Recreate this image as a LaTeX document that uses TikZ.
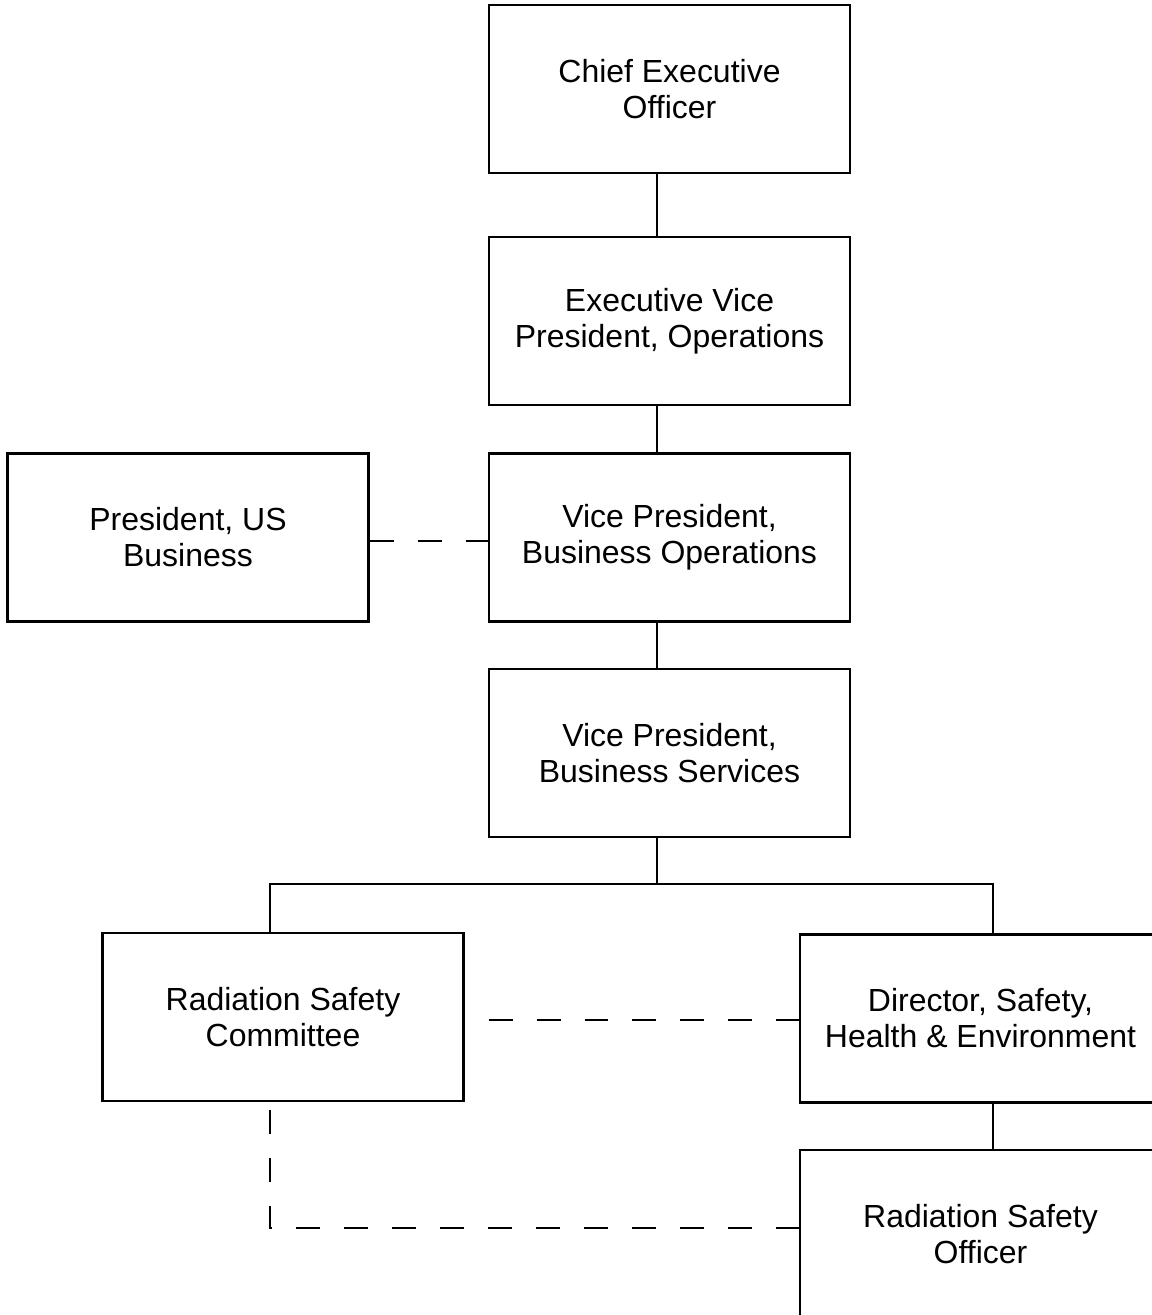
\documentclass[tikz,border=0pt]{standalone}
\usepackage{fontspec}
\setmainfont{Liberation Sans}
\usetikzlibrary{positioning,calc}

\begin{document}
\begin{tikzpicture}[x=0.02cm, y=-0.02cm,
            box/.style={draw, line width=1.2pt, rectangle, align=center,
                minimum width=7.22cm, minimum height=3.36cm, inner sep=0pt,
                font=\fontsize{18.2}{20.5}\selectfont},
            link/.style={draw, line width=1.2pt},
            dashlink/.style={draw, line width=1.2pt, dash pattern=on 0.48cm off 0.48cm}]
        \clip (0,0) rectangle (1152,1315);
        % boxes
        \node[box] (ceo) at (669.5,89) {Chief Executive\\Officer};
        \node[box] (evp) at (669.5,321) {Executive Vice\\President, Operations};
        \node[box] (vpops) at (669.5,537.5) {Vice President,\\Business Operations};
        \node[box] (pres) at (188,537.5) {President, US\\Business};
        \node[box] (vpsvc) at (669.5,753) {Vice President,\\Business Services};
        \node[box] (rsc) at (283,1017) {Radiation Safety\\Committee};
        \node[box] (dir) at (980.5,1018.5) {Director, Safety,\\Health \& Environment};
        \node[box] (rso) at (980.5,1234) {Radiation Safety\\Officer};
        % solid reporting lines
        \coordinate (trunk) at (657,0);
        \coordinate (bus) at (0,884);
        \coordinate (lft) at (270,0);
        \coordinate (rgt) at (993,0);
        \draw[link] (ceo.south -| trunk) -- (evp.north -| trunk);
        \draw[link] (evp.south -| trunk) -- (vpops.north -| trunk);
        \draw[link] (vpops.south -| trunk) -- (vpsvc.north -| trunk);
        \draw[link] (vpsvc.south -| trunk) -- (bus -| trunk);
        \draw[link] (rsc.north -| lft) -- (bus -| lft) -- (bus -| rgt) -- (dir.north -| rgt);
        \draw[link] (dir.south -| rgt) -- (rso.north -| rgt);
        % dotted-line relations
        \coordinate (opsrow) at (0,541);
        \coordinate (shrow) at (0,1020);
        \coordinate (tie) at (0,1228);
        \draw[dashlink] (opsrow -| pres.east) -- (opsrow -| vpops.west);
        \draw[dashlink, dash phase=0.48cm] (shrow -| rsc.east) -- (shrow -| dir.west);
        \draw[dashlink, dash phase=0.8cm] (rsc.south -| lft) -- (tie -| lft) -- (tie -| rso.west);
\end{tikzpicture}
\end{document}
